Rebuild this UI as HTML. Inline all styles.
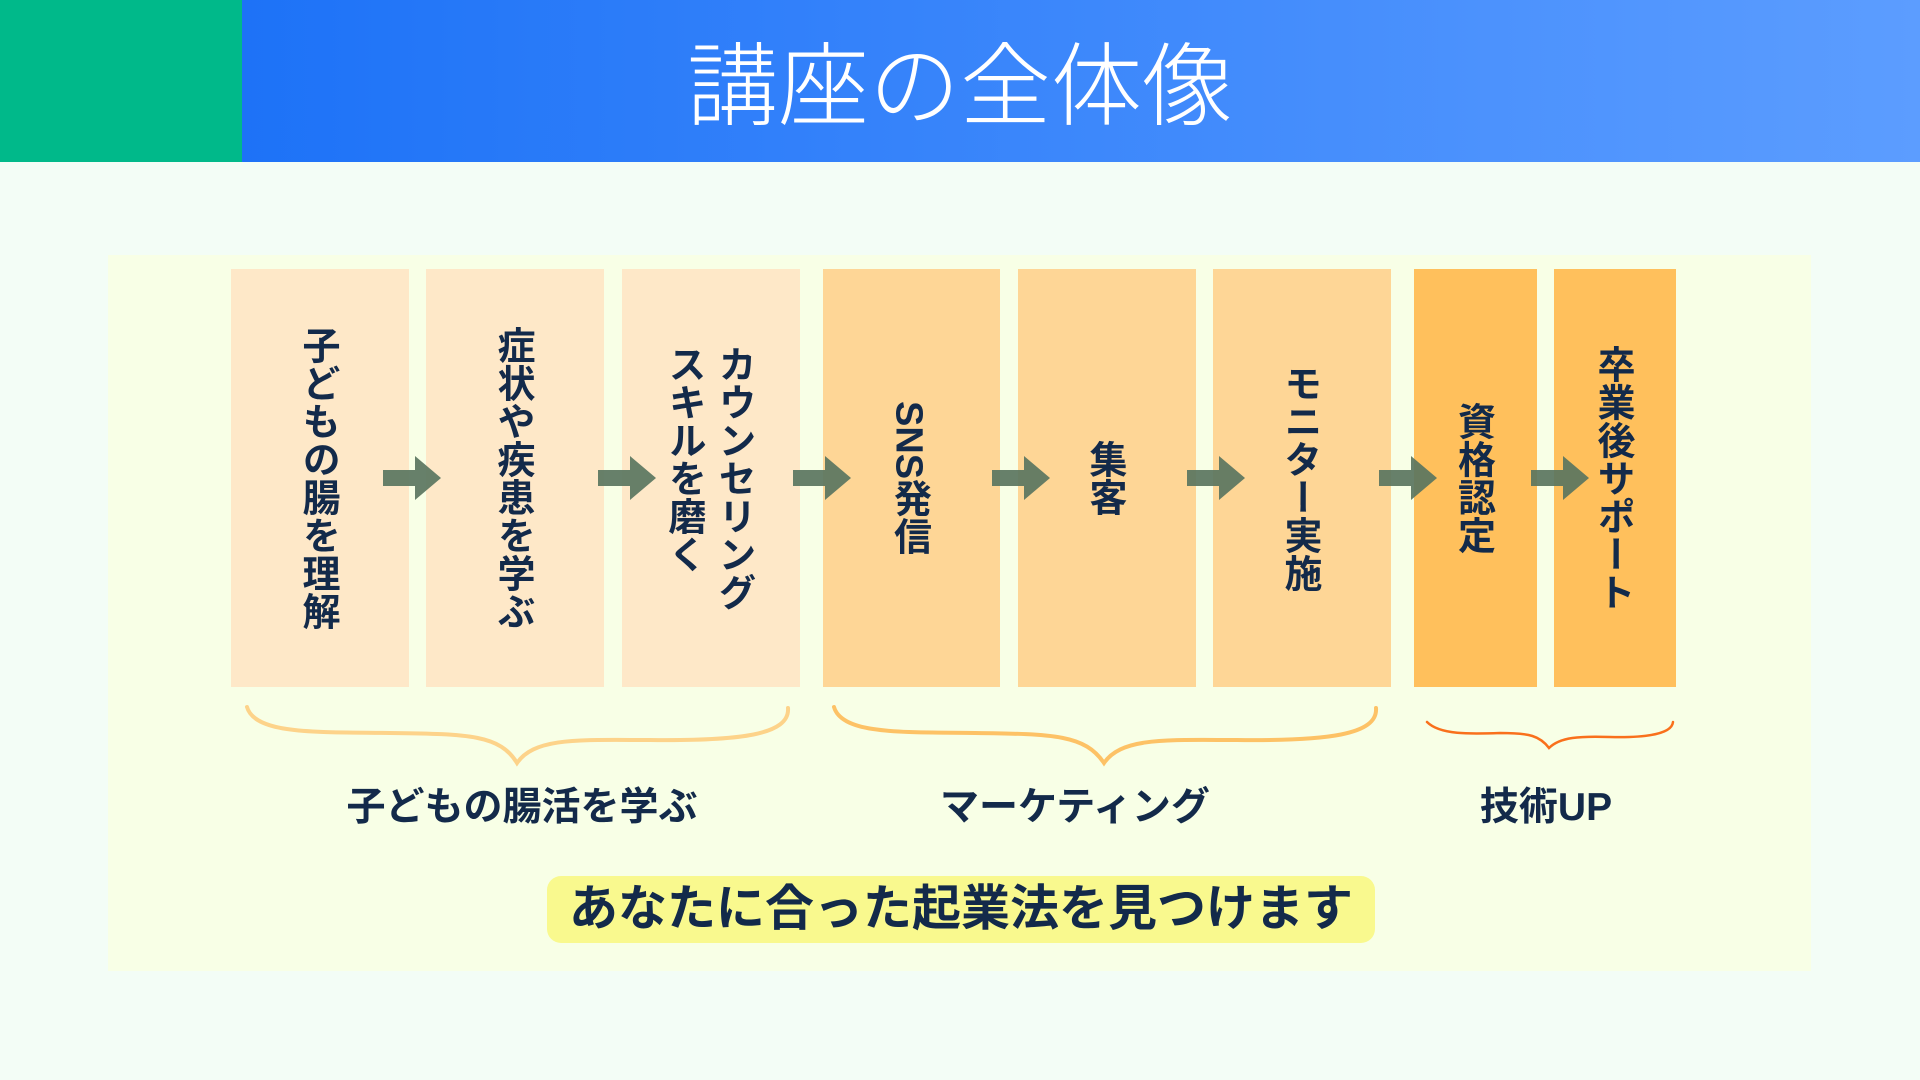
<!DOCTYPE html>
<html><head><meta charset="utf-8"><style>
body{margin:0;width:1920px;height:1080px;background:#f3fdf6;position:relative;overflow:hidden;font-family:"Liberation Sans","Noto Sans CJK JP",sans-serif;}
.hdr{position:absolute;left:0;top:0;width:1920px;height:162px;background:linear-gradient(90deg,#146cf6,#5c9dff);}
.grn{position:absolute;left:0;top:0;width:242px;height:162px;background:#00b98a;}
.title{position:absolute;left:0;width:1920px;top:38px;text-align:center;color:#fff;font-size:91px;font-weight:300;line-height:100px;padding-left:0px;}
.panel{position:absolute;left:108px;top:255px;width:1703px;height:716px;background:#f8ffe6;}
.box{position:absolute;top:269px;height:418px;display:flex;align-items:center;justify-content:center;}
.box span{writing-mode:vertical-rl;font-size:38px;font-weight:bold;color:#132a4a;line-height:50px;margin-right:6px;}
.c1{background:#fee8c8}.c2{background:#fed696}.c3{background:#ffc05c}
.lbl{position:absolute;top:776px;font-size:39px;font-weight:bold;color:#132a4a;transform:translateX(-50%);white-space:nowrap;}
.pill{position:absolute;left:547px;top:876px;width:828px;height:67px;background:#f9f98e;border-radius:14px;text-align:center;font-size:49px;font-weight:bold;color:#132a4a;line-height:67px;}
</style></head><body>
<div class="hdr"></div><div class="grn"></div>
<div class="title">講座の全体像</div>
<div class="panel"></div>
<div class="box c1" style="left:231px;width:178px"><span>子どもの腸を理解</span></div>
<div class="box c1" style="left:426px;width:178px"><span>症状や疾患を学ぶ</span></div>
<div class="box c1" style="left:622px;width:178px"><span>カウンセリング<br>スキルを磨く</span></div>
<div class="box c2" style="left:823px;width:177px"><span>SNS発信</span></div>
<div class="box c2" style="left:1018px;width:178px"><span>集客</span></div>
<div class="box c2" style="left:1213px;width:178px"><span>モニター実施</span></div>
<div class="box c3" style="left:1414px;width:123px"><span>資格認定</span></div>
<div class="box c3" style="left:1554px;width:122px"><span>卒業後サポート</span></div>
<svg width="1920" height="1080" style="position:absolute;left:0;top:0">
<g fill="#5a7560" fill-opacity="0.92">
<path d="M0,-8 H32 V-22 L58,0 L32,22 V8 H0 Z" transform="translate(383,478)"/>
<path d="M0,-8 H32 V-22 L58,0 L32,22 V8 H0 Z" transform="translate(598,478)"/>
<path d="M0,-8 H32 V-22 L58,0 L32,22 V8 H0 Z" transform="translate(793,478)"/>
<path d="M0,-8 H32 V-22 L58,0 L32,22 V8 H0 Z" transform="translate(992,478)"/>
<path d="M0,-8 H32 V-22 L58,0 L32,22 V8 H0 Z" transform="translate(1187,478)"/>
<path d="M0,-8 H32 V-22 L58,0 L32,22 V8 H0 Z" transform="translate(1379,478)"/>
<path d="M0,-8 H32 V-22 L58,0 L32,22 V8 H0 Z" transform="translate(1531,478)"/>
</g>
<g fill="none" stroke-linecap="round">
<path d="M247,707 C255,735 320,732 390,733 C470,734 500,735 517,763 C535,737 580,740 650,740 C740,741 790,735 788,708" stroke="#fdd38a" stroke-width="4"/>
<path d="M834,707 C842,735 905,732 975,733 C1055,734 1085,735 1104,763 C1122,737 1167,740 1237,740 C1327,741 1378,735 1376,708" stroke="#fdc266" stroke-width="4"/>
<path d="M1427,722 C1440,735 1470,734 1500,733 C1530,733 1540,736 1549,748 C1560,737 1580,736 1610,737 C1650,738 1672,733 1673,722" stroke="#f9701c" stroke-width="2.5"/>
</g>
</svg>
<div class="lbl" style="left:522px">子どもの腸活を学ぶ</div>
<div class="lbl" style="left:1075px">マーケティング</div>
<div class="lbl" style="left:1546px">技術UP</div>
<div class="pill">あなたに合った起業法を見つけます</div>
</body></html>
